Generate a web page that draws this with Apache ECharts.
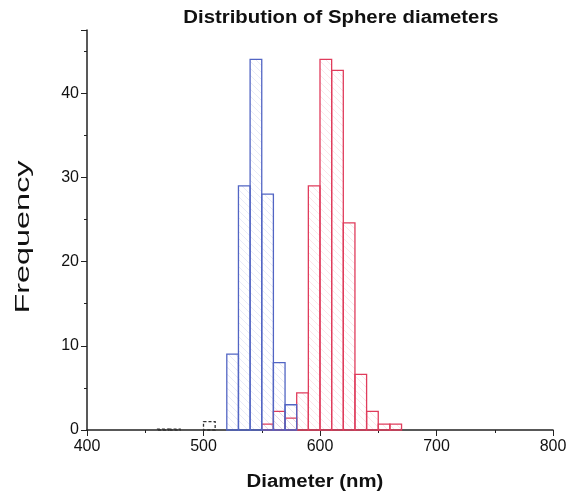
<!DOCTYPE html>
<html><head><meta charset="utf-8">
<script src="https://cdn.jsdelivr.net/npm/echarts@6/dist/echarts.min.js"></script>
<style>html,body{margin:0;padding:0;background:#fff}#c{width:570px;height:497px}</style>
</head><body><div id="c"></div>
<script>
// Histogram bins (left edge, nm) and frequencies
const binWidth = 10;
const blueStarts = [520, 530, 540, 550, 560, 570];
const blueCounts = [9, 29, 44, 28, 8, 3];
const redStarts = [550, 560, 570, 580, 590, 600, 610, 620, 630, 640, 650, 660];
const redCounts = [0.7, 2.2, 1.4, 4.4, 29, 44, 42.7, 24.6, 6.6, 2.2, 0.7, 0.7];
const blackStarts = [460, 470, 500];
const blackCounts = [0.1, 0.1, 1];
const xTicks = [400, 500, 600, 700, 800];
const yTicks = [0, 10, 20, 30, 40];
const titleText = 'Distribution of Sphere diameters';
const xName = 'Diameter (nm)';
const yName = 'Frequency';

function hatch(color) {
  const c = document.createElement('canvas');
  c.width = 7; c.height = 7;
  const g = c.getContext('2d');
  g.strokeStyle = color; g.lineWidth = 1;
  g.beginPath(); g.moveTo(0, 0); g.lineTo(7, 7); g.stroke();
  return c;
}
function bins(starts, counts) { return starts.map((s, i) => [s, s + binWidth, counts[i]]); }
function histSeries(name, data, stroke, hatchColor, dashed, z) {
  const pat = hatch(hatchColor);
  return {
    type: 'custom', name: name, z: z, data: data,
    renderItem: function (params, api) {
      const p0 = api.coord([api.value(0), api.value(2)]);
      const p1 = api.coord([api.value(1), 0]);
      return {
        type: 'rect',
        shape: { x: p0[0], y: p0[1], width: p1[0] - p0[0], height: p1[1] - p0[1] },
        style: { fill: { image: pat, repeat: 'repeat' }, stroke: stroke, lineWidth: 1.3, lineDash: dashed ? [3, 2] : null }
      };
    }
  };
}

const chart = echarts.init(document.getElementById('c'));
chart.setOption({
  animation: false,
  grid: { left: 87, right: 17, top: 30, bottom: 67 },
  graphic: [
    { type: 'text', x: 341, y: 18, scaleX: 1.13, z: 10,
      style: { text: titleText, font: 'bold 18px "Liberation Sans"', fill: '#111', textAlign: 'center', textVerticalAlign: 'middle' } },
    { type: 'text', x: 315, y: 482, scaleX: 1.13, z: 10,
      style: { text: xName, font: 'bold 18px "Liberation Sans"', fill: '#111', textAlign: 'center', textVerticalAlign: 'middle' } },
    { type: 'text', x: 23, y: 237, rotation: Math.PI / 2, scaleX: 1.62, z: 10,
      style: { text: yName, font: '20px "Liberation Sans"', fill: '#111', textAlign: 'center', textVerticalAlign: 'middle' } }
  ],
  xAxis: {
    type: 'value', min: xTicks[0], max: xTicks[xTicks.length - 1], interval: 100,
    axisLine: { lineStyle: { color: '#222', width: 1.5 } },
    axisTick: { show: true, length: 6, lineStyle: { color: '#222' } },
    minorTick: { show: true, splitNumber: 2, length: 3, lineStyle: { color: '#222' } },
    axisLabel: { fontFamily: 'Liberation Sans', fontSize: 16, color: '#111', margin: 9 },
    splitLine: { show: false }
  },
  yAxis: {
    type: 'value', min: 0, max: 47.5, interval: 10,
    axisLine: { show: true, lineStyle: { color: '#222', width: 1.5 } },
    axisTick: { show: true, length: 6, lineStyle: { color: '#222' } },
    minorTick: { show: true, splitNumber: 2, length: 3, lineStyle: { color: '#222' } },
    axisLabel: { fontFamily: 'Liberation Sans', fontSize: 16, color: '#111', margin: 8,
      formatter: v => yTicks.indexOf(v) >= 0 ? String(v) : '' },
    splitLine: { show: false }
  },
  series: [
    histSeries('black', bins(blackStarts, blackCounts), '#333', 'rgba(0,0,0,0)', true, 1),
    histSeries('red', bins(redStarts, redCounts), '#e03c5c', 'rgba(226,64,94,0.13)', false, 2),
    histSeries('blue', bins(blueStarts, blueCounts), '#5265c4', 'rgba(85,102,196,0.13)', false, 3)
  ]
});
</script></body></html>
